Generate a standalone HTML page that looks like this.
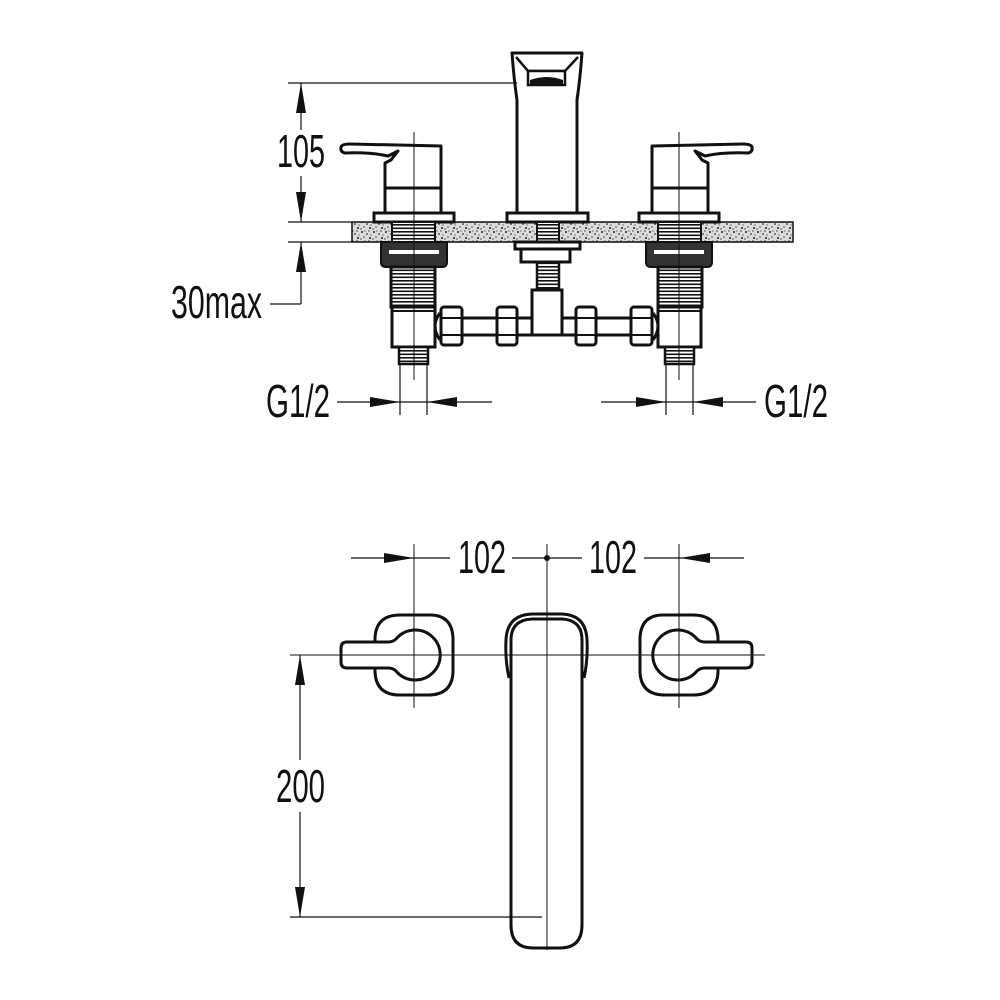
<!DOCTYPE html>
<html><head><meta charset="utf-8"><style>
html,body{margin:0;padding:0;background:#fff;}
svg{display:block}
text{font-family:"Liberation Sans",Arial,sans-serif;fill:#111;}
</style></head><body>
<svg width="1000" height="1000" viewBox="0 0 1000 1000" xmlns="http://www.w3.org/2000/svg">
<defs>
<pattern id="spk" width="12" height="10" patternUnits="userSpaceOnUse">
<rect width="12" height="10" fill="#dcdcdc"/>
<circle cx="2" cy="2" r="1" fill="#222"/><circle cx="7" cy="4" r="0.9" fill="#333"/>
<circle cx="10" cy="8" r="1" fill="#222"/><circle cx="4" cy="7" r="0.8" fill="#444"/>
<circle cx="9" cy="1" r="0.7" fill="#333"/><circle cx="1" cy="9" r="0.7" fill="#333"/>
<circle cx="5" cy="1" r="0.6" fill="#333"/><circle cx="11" cy="5" r="0.6" fill="#333"/>
</pattern>
<pattern id="thr" width="10" height="3.5" patternUnits="userSpaceOnUse">
<rect width="10" height="3.5" fill="#fff"/><rect y="0" width="10" height="1.6" fill="#111"/>
</pattern>
<g id="valve">
<path d="M341,147 Q342,144 350,144 L441,146 L441,213 L385,213 L385,163 L391,160 Q393,157 398,151 L388,156 Q370,152 345,153 Q340,152 341,147 Z" fill="#fff" stroke="#111" stroke-width="3" stroke-linejoin="round"/>
<line x1="385" y1="188" x2="441" y2="188" stroke="#111" stroke-width="3"/>
<rect x="374" y="213" width="80" height="9" fill="#fff" stroke="#111" stroke-width="3"/>
<rect x="392" y="222" width="43" height="20" fill="url(#thr)" stroke="#111" stroke-width="2"/>
<path d="M381,242 L447,242 L447,262 Q447,267 442,267 L386,267 Q381,267 381,262 Z" fill="#333" stroke="#111" stroke-width="2"/>
<rect x="389" y="250" width="50" height="4" fill="#fff"/>
<rect x="391" y="267" width="44" height="40" fill="url(#thr)" stroke="#111" stroke-width="3"/>
<rect x="392" y="307" width="43" height="40" fill="#fff" stroke="#111" stroke-width="3"/>
<line x1="392" y1="311" x2="435" y2="311" stroke="#111" stroke-width="2"/>
<rect x="399" y="347" width="29" height="17" fill="url(#thr)" stroke="#111" stroke-width="2.5"/>
<path d="M440,313 Q430,326 440,340" fill="none" stroke="#111" stroke-width="3"/>
<rect x="441" y="307" width="21" height="38" rx="3" fill="#fff" stroke="#111" stroke-width="3"/>
<line x1="441" y1="318" x2="462" y2="318" stroke="#111" stroke-width="2"/>
<line x1="441" y1="335" x2="462" y2="335" stroke="#111" stroke-width="2"/>
<rect x="462" y="318" width="35" height="17" fill="#fff" stroke="#111" stroke-width="3"/>
<rect x="497" y="307" width="20" height="38" rx="3" fill="#fff" stroke="#111" stroke-width="3"/>
<line x1="497" y1="318" x2="517" y2="318" stroke="#111" stroke-width="2"/>
<line x1="497" y1="335" x2="517" y2="335" stroke="#111" stroke-width="2"/>
<line x1="517" y1="318" x2="532" y2="318" stroke="#111" stroke-width="3"/>
<line x1="517" y1="335" x2="532" y2="335" stroke="#111" stroke-width="3"/>
<line x1="414" y1="132" x2="414" y2="380" stroke="#111" stroke-width="1"/>
<line x1="400" y1="364" x2="400" y2="415" stroke="#111" stroke-width="1.2"/>
<line x1="427" y1="364" x2="427" y2="415" stroke="#111" stroke-width="1.2"/>
<line x1="337" y1="402" x2="492" y2="402" stroke="#111" stroke-width="1.2"/>
<path d="M400,402 L370,397 L370,407 Z" fill="#111"/>
<path d="M427,402 L457,397 L457,407 Z" fill="#111"/>
<path d="M400,615 L430,615 Q452,615 453,638 L453,672 Q452,695 428,695 L400,695 Q376,695 375,672 L375,638 Q376,615 400,615 Z" fill="#fff" stroke="#111" stroke-width="3"/>
<path d="M347,642 L388,642 Q393,642 396,639 A25,25 0 1 1 396,671 Q393,668 388,668 L347,668 Q341,668 341,662 L341,648 Q341,642 347,642 Z" fill="#fff" stroke="#111" stroke-width="3"/>
<line x1="414" y1="544" x2="414" y2="708" stroke="#111" stroke-width="1"/>
</g>
</defs>

<rect x="352" y="222" width="441" height="20" fill="url(#spk)" stroke="#111" stroke-width="1.5"/>

<use href="#valve"/>
<use href="#valve" transform="translate(1093,0) scale(-1,1)"/>

<path d="M512,53 L582,53 Q580,80 577,100 L577,213 L517,213 L517,100 Q514,80 512,53 Z" fill="#fff" stroke="#111" stroke-width="3" stroke-linejoin="round"/>
<path d="M516,57 L528,71 L565,71 L578,57" fill="none" stroke="#111" stroke-width="2.5"/>
<rect x="528" y="71" width="37" height="14" fill="#fff" stroke="#111" stroke-width="2.5"/>
<path d="M530,80 Q547,74 563,80 L563,84 L530,84 Z" fill="#111"/>
<rect x="507" y="213" width="81" height="9" fill="#fff" stroke="#111" stroke-width="3"/>
<rect x="537" y="222" width="22" height="20" fill="url(#thr)" stroke="#111" stroke-width="2"/>
<rect x="515" y="242" width="65" height="7" fill="#fff" stroke="#111" stroke-width="3"/>
<rect x="521" y="249" width="49" height="13" fill="#fff" stroke="#111" stroke-width="3"/>
<rect x="537" y="262" width="22" height="28" fill="url(#thr)" stroke="#111" stroke-width="2.5"/>
<rect x="532" y="290" width="30" height="45" fill="#fff" stroke="#111" stroke-width="3"/>

<line x1="288" y1="83" x2="517" y2="83" stroke="#111" stroke-width="1.2"/>
<line x1="288" y1="222" x2="352" y2="222" stroke="#111" stroke-width="1.2"/>
<line x1="288" y1="242" x2="352" y2="242" stroke="#111" stroke-width="1.2"/>
<line x1="301" y1="83" x2="301" y2="130" stroke="#111" stroke-width="1.2"/>
<line x1="301" y1="176" x2="301" y2="222" stroke="#111" stroke-width="1.2"/>
<path d="M301,83 L296,113 L306,113 Z" fill="#111"/>
<path d="M301,222 L296,192 L306,192 Z" fill="#111"/>
<line x1="301" y1="242" x2="301" y2="304" stroke="#111" stroke-width="1.2"/>
<line x1="270" y1="304" x2="301" y2="304" stroke="#111" stroke-width="1.2"/>
<path d="M301,242 L296,272 L306,272 Z" fill="#111"/>
<text x="277" y="167" font-size="46" textLength="48" lengthAdjust="spacingAndGlyphs">105</text>
<text x="171" y="318" font-size="46" textLength="91" lengthAdjust="spacingAndGlyphs">30max</text>
<text x="266" y="417" font-size="46" textLength="64" lengthAdjust="spacingAndGlyphs">G1/2</text>
<text x="764" y="417" font-size="46" textLength="64" lengthAdjust="spacingAndGlyphs">G1/2</text>

<line x1="351" y1="558" x2="450" y2="558" stroke="#111" stroke-width="1.2"/>
<line x1="512" y1="558" x2="582" y2="558" stroke="#111" stroke-width="1.2"/>
<line x1="644" y1="558" x2="744" y2="558" stroke="#111" stroke-width="1.2"/>
<path d="M414,558 L384,553 L384,563 Z" fill="#111"/>
<path d="M680,558 L710,553 L710,563 Z" fill="#111"/>
<circle cx="547" cy="558" r="3" fill="#111"/>
<text x="458" y="573" font-size="46" textLength="48" lengthAdjust="spacingAndGlyphs">102</text>
<text x="589" y="573" font-size="46" textLength="48" lengthAdjust="spacingAndGlyphs">102</text>

<path d="M509,678 Q505,660 506,640 Q507,615 532,614 L562,614 Q586,615 587,640 Q588,660 584,678" fill="none" stroke="#111" stroke-width="3"/>
<path d="M511,640 Q511,620 532,619 L562,619 Q582,620 582,640 L582,925 Q582,948 560,948 L533,948 Q511,948 511,925 Z" fill="#fff" stroke="#111" stroke-width="3"/>
<line x1="547" y1="544" x2="547" y2="950" stroke="#111" stroke-width="1"/>
<line x1="290" y1="655" x2="765" y2="655" stroke="#111" stroke-width="1"/>

<line x1="290" y1="917" x2="542" y2="917" stroke="#111" stroke-width="1.2"/>
<line x1="300" y1="655" x2="300" y2="760" stroke="#111" stroke-width="1.2"/>
<line x1="300" y1="812" x2="300" y2="917" stroke="#111" stroke-width="1.2"/>
<path d="M300,655 L295,685 L305,685 Z" fill="#111"/>
<path d="M300,917 L295,887 L305,887 Z" fill="#111"/>
<text x="276" y="802" font-size="46" textLength="49" lengthAdjust="spacingAndGlyphs">200</text>
</svg>
</body></html>
